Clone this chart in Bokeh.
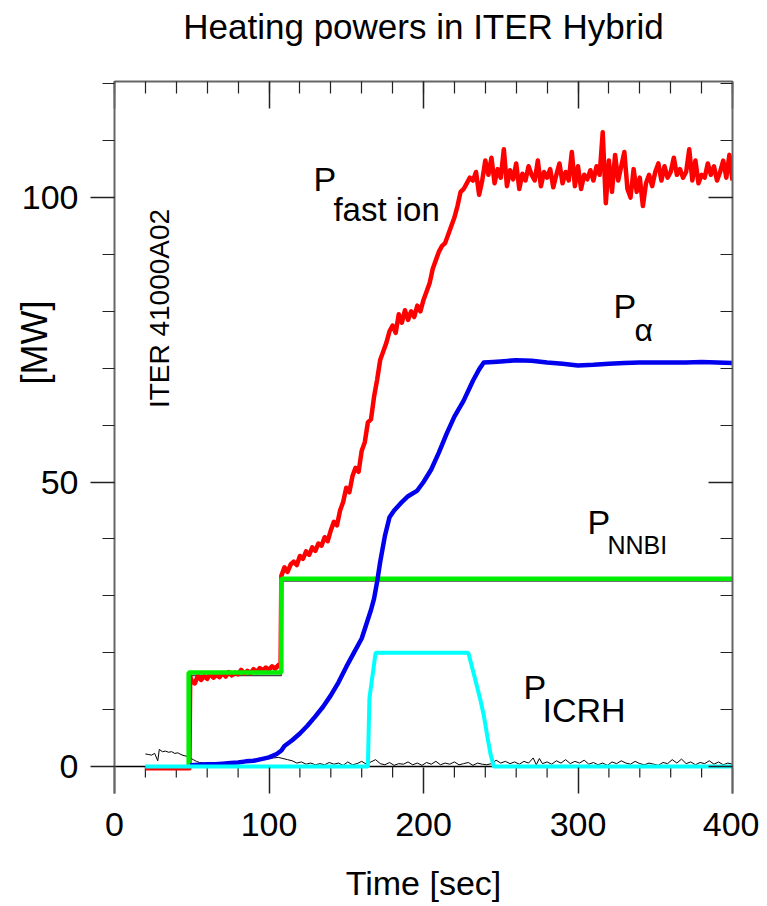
from bokeh.plotting import figure
from bokeh.models import Range1d, LinearAxis, FixedTicker, Label, Span
from bokeh.embed import file_html
from bokeh.resources import INLINE
import math

# ---------------- data ----------------
# P fast ion (red)
fast_t = [20, 48.5,
          49, 50, 52, 54, 56, 58, 60, 62, 64, 66, 68, 70, 72, 74, 76, 78, 80, 82, 84, 86, 88, 90,
          92, 94, 96, 98, 100, 102, 104, 106, 107.5,
          108, 110, 112, 114, 116, 118, 120, 122, 124, 126, 128, 130, 132, 134, 136, 138, 140,
          142, 144, 146, 148, 150, 152, 154, 156, 158, 160, 162, 164, 166, 168, 170, 172, 174,
          176, 178, 180, 182, 184, 186, 188, 190, 192, 194, 196, 198, 200, 202, 204, 206, 208,
          210, 212, 214, 216, 218, 220, 222, 224, 226, 228, 230, 232, 234,
          236, 238, 240, 242, 244, 246, 248, 250, 252, 254, 256, 258, 260, 262, 264, 266, 268,
          270, 272, 274, 276, 278, 280, 282, 284, 286, 288, 290, 292, 294, 296, 298, 300, 302,
          304, 306, 308, 310, 312, 314, 316, 318, 320, 322, 324, 326, 328, 330, 332, 334, 336,
          338, 340, 342, 344, 346, 348, 350, 352, 354, 356, 358, 360, 362, 364, 366, 368, 370,
          372, 374, 376, 378, 380, 382, 384, 386, 388, 390, 392, 394, 396, 398, 400]
fast_p = [-0.3, -0.3,
          15.8, 15.0, 14.6, 16.0, 15.2, 15.9, 15.4, 16.3, 15.6, 16.1, 15.7, 16.4, 15.8, 16.6,
          16.0, 16.5, 16.2, 17.0, 16.3, 16.8, 16.4, 17.1, 16.6, 17.3, 16.9, 17.4, 17.0, 17.6,
          17.2, 17.8, 17.5,
          33.5, 35.0, 34.2, 35.5, 36.0, 35.4, 37.0, 36.5, 37.8, 37.2, 38.5, 37.9, 39.2, 38.8,
          40.3, 39.6, 41.5, 43.0, 42.4, 45.0, 46.5, 49.0, 48.2, 51.0, 52.5, 51.8, 55.5, 57.0,
          60.5, 61.0, 65.0, 68.0, 71.5, 73.0, 74.5, 76.5, 77.5, 76.2, 79.5, 78.0, 80.2, 78.5,
          80.0, 79.0, 81.0, 80.0, 82.0, 83.5, 85.0, 87.5, 89.0, 90.5, 91.5, 92.0, 93.5, 95.0,
          96.5, 98.5, 101.0, 101.5, 102.5, 103.5, 103.0, 104.5,
          100.5, 103.0, 106.5, 104.0, 107.0, 102.5, 105.0, 103.5, 108.5, 102.0, 104.8, 103.2,
          106.0, 101.5, 104.2, 103.0, 105.5, 104.0, 103.0, 106.5, 102.0, 104.5, 103.5, 105.0,
          101.8, 104.0, 106.0, 102.5, 104.5, 103.0, 108.0, 102.0, 105.5, 101.5, 104.0, 103.2,
          104.8, 103.0, 105.5, 104.0, 111.5, 99.0, 106.5, 101.0, 107.5, 103.0, 105.5, 108.0,
          101.5, 100.0, 105.0, 101.0, 103.5, 98.5, 102.5, 104.0, 102.0, 104.5, 106.0, 103.0,
          105.5, 103.5, 104.5, 107.0, 104.0, 105.0, 103.5, 104.5, 108.5, 103.0, 106.5, 102.5,
          104.0, 103.5, 106.0, 104.0, 105.5, 103.0, 104.5, 106.5, 103.5, 107.5, 103.0, 103.5]

# P alpha (blue)
alpha_t = [49, 55, 60, 65, 70, 75, 80, 85, 90, 95, 100, 105, 108, 110, 115, 120, 125, 130,
           135, 140, 145, 150, 155, 160, 163, 166, 168, 170, 172, 175, 178, 181, 185, 190, 196,
           200, 205, 210, 215, 220, 226, 232, 236, 239, 245, 250, 260, 270, 280, 290, 300, 310,
           320, 330, 340, 350, 360, 370, 380, 390, 400]
alpha_p = [0.2, 0.3, 0.4, 0.4, 0.5, 0.6, 0.7, 0.9, 1.0, 1.3, 1.6, 2.2, 2.8, 3.6, 4.6, 5.8,
           7.2, 8.8, 10.5, 12.5, 14.8, 17.5, 20.0, 22.5, 25.0, 27.5, 29.5, 32.5, 36.0, 40.5,
           43.8, 45.0, 46.2, 47.5, 48.5, 50.0, 52.2, 55.2, 58.5, 61.5, 64.3, 67.8, 69.8, 71.0,
           71.1, 71.2, 71.4, 71.3, 71.0, 70.8, 70.5, 70.6, 70.8, 70.9, 71.0, 71.0, 71.0, 71.0,
           71.1, 71.0, 70.9]

# P NNBI (green) and injected NBI (thin dark line)
nnbi_t = [48, 48, 108, 108, 400]
nnbi_p = [0, 16.5, 16.5, 33.0, 33.0]
inj_t = [48.5, 49, 108, 108.5, 400]
inj_p = [0, 16.0, 16.0, 32.6, 32.6]

# P ICRH (cyan)
icrh_t = [20, 164, 165, 169, 229, 233, 237, 239, 241.5, 243.5, 245.5, 400]
icrh_p = [0, 0, 12, 20, 20, 15.8, 11.5, 9.0, 5.0, 2.0, 0, 0]

# thin black trace near zero
thin_t = [20, 22, 24, 26, 28, 29, 31, 33, 35, 37, 39, 41, 43, 45, 47, 49, 51, 53, 55, 58, 61,
          64, 67, 70, 73, 76, 79, 82, 85, 88, 91, 94, 97, 100, 103, 106, 109, 112, 115, 118,
          121, 124, 127, 130, 133, 136, 139, 142, 145, 148, 151, 154, 157, 160, 163, 166, 169,
          172, 175, 178, 181, 184, 187, 190, 193, 196, 199, 202, 205, 208, 211, 214, 217, 220,
          223, 226, 229, 232, 235, 238, 241, 244, 247, 250, 253, 256, 259, 262, 265, 268, 271,
          273, 275, 277, 280, 283, 286, 289, 292, 295, 298, 301, 304, 307, 310, 313, 316, 319,
          322, 325, 328, 331, 334, 337, 340, 343, 346, 349, 352, 355, 358, 361, 364, 367, 370,
          373, 376, 379, 382, 385, 388, 391, 394, 397, 400]
thin_p = [2.2, 2.1, 2.0, 2.3, 1.0, 3.0, 2.6, 2.7, 2.5, 2.6, 2.3, 2.4, 2.1, 1.9, 1.8, 1.5,
          1.2, 0.9, 0.7, 0.6, 0.5, 0.5, 0.6, 0.5, 0.7, 0.6, 0.8, 0.7, 0.9, 1.1, 1.0, 1.3, 1.2,
          1.4, 1.5, 1.6, 1.4, 1.2, 1.0, 0.6, 0.8, 0.4, 0.6, 0.3, 0.5, 0.3, 0.7, 0.4, 0.6, 0.2,
          0.8, 0.3, 0.5, 0.9, 0.4, 0.8, 1.2, 0.5, 0.3, 0.7, 0.2, 0.5, 0.4, 0.8, 0.3, 0.6, 0.2,
          0.7, 0.4, 0.9, 0.3, 0.6, 0.4, 0.8, 0.3, 0.5, 0.7, 0.2, 0.6, 0.4, 0.3, 0.5, 1.1, 0.6,
          0.9, 0.5, 0.8, 0.4, 0.9, 0.6, 1.5, 0.3, 1.4, 0.5, 0.8, 0.4, 1.0, 0.6, 1.2, 0.5, 0.9,
          0.6, 1.1, 0.4, 0.7, 0.3, 0.6, 0.2, 0.8, 0.5, 1.0, 0.6, 0.4, 0.9, 0.5, 0.3, 0.6, 0.4,
          0.2, 0.7, 0.5, 1.2, 0.6, 1.3, 0.5, 0.8, 0.3, 0.7, 0.5, 1.0, 0.4, 0.8, 0.3, 0.6, 0.4]

x_major = [0, 100, 200, 300, 400]
x_minor = list(range(0, 401, 20))
y_major = [0, 50, 100]
y_minor = list(range(0, 121, 10))

FONT = "Liberation Sans"
NB = "\u00a0"

# ---------------- figure ----------------
p = figure(width=759, height=904,
           x_range=Range1d(0, 400), y_range=Range1d(-4.75, 120.4),
           x_axis_location=None, y_axis_location=None,
           output_backend="svg", toolbar_location=None,
           min_border_left=114, min_border_right=27,
           min_border_top=81, min_border_bottom=111)
p.outline_line_color = None
for g in p.grid:
    g.visible = False

AX_COL = "#666666"
TK_COL = "#222222"

def style(ax):
    ax.axis_line_color = AX_COL
    ax.axis_line_width = 2
    ax.major_tick_line_color = TK_COL
    ax.minor_tick_line_color = TK_COL
    ax.major_tick_line_width = 1.5
    ax.minor_tick_line_width = 1.2
    ax.major_label_text_font = FONT
    ax.major_label_text_color = "black"
    ax.axis_label_text_font = FONT
    ax.axis_label_text_font_style = "normal"
    ax.axis_label_text_color = "black"

# bottom axis: labels + major ticks rising from the frame bottom to the zero line
bottom = LinearAxis(ticker=FixedTicker(ticks=x_major, minor_ticks=[]))
style(bottom)
bottom.axis_line_color = None
bottom.major_tick_in = 26
bottom.major_tick_out = 0
bottom.minor_tick_in = 0
bottom.minor_tick_out = 0
bottom.major_label_standoff = 19
bottom.major_label_text_font_size = "34px"
bottom.axis_label = "Time [sec]"
bottom.axis_label_text_font_size = "34px"
bottom.axis_label_standoff = 25
p.add_layout(bottom, "below")

left = LinearAxis(ticker=FixedTicker(ticks=y_major, minor_ticks=y_minor))
style(left)
left.major_tick_in = 0
left.major_tick_out = 24
left.minor_tick_in = 0
left.minor_tick_out = 12
left.major_label_standoff = 12
left.major_label_text_font_size = "34px"
left.axis_label = NB * 19 + "[MW]"
left.axis_label_text_font_size = "36px"
left.axis_label_standoff = -36
p.add_layout(left, "left")

top = LinearAxis(ticker=FixedTicker(ticks=x_major, minor_ticks=x_minor),
                 major_label_overrides={v: "" for v in x_major})
style(top)
top.major_tick_in = 27
top.major_tick_out = 0
top.minor_tick_in = 12
top.minor_tick_out = 0
top.major_label_text_font_size = "1px"
top.major_label_standoff = 0
top.axis_label = "Heating powers in ITER Hybrid"
top.axis_label_text_font_size = "35px"
top.axis_label_standoff = 36
p.add_layout(top, "above")

right = LinearAxis(ticker=FixedTicker(ticks=y_major, minor_ticks=y_minor),
                   major_label_overrides={v: "" for v in y_major})
style(right)
right.major_tick_in = 24
right.major_tick_out = 0
right.minor_tick_in = 12
right.minor_tick_out = 0
right.major_label_text_font_size = "1px"
right.major_label_standoff = 0
p.add_layout(right, "right")

# zero line and the short minor ticks hanging from it
p.add_layout(Span(location=0, dimension="width", line_color="black", line_width=1.5,
                  level="underlay"))
minor_only = [v for v in x_minor if v not in x_major]
p.segment(x0=minor_only, y0=[0] * len(minor_only), x1=minor_only,
          y1=[-1.93] * len(minor_only), line_color=TK_COL, line_width=1.2)

# ---------------- lines ----------------
p.line(thin_t, thin_p, line_color="black", line_width=1)
p.line(inj_t, inj_p, line_color="#444444", line_width=1.5)
p.line(fast_t, fast_p, line_color="#ff0000", line_width=4.5, line_join="round")
p.line(nnbi_t, nnbi_p, line_color="#00ee00", line_width=4.5)
p.line(alpha_t, alpha_p, line_color="#0000ee", line_width=4.5, line_join="round")
p.line(icrh_t, icrh_p, line_color="#00ffff", line_width=4)

# ---------------- texts inside the frame ----------------
def lab(x, y, text, size, angle=0, align="left", baseline="alphabetic"):
    p.add_layout(Label(x=x, y=y, text=text, text_font=FONT, text_font_size=size,
                       text_color="black", angle=angle, text_align=align,
                       text_baseline=baseline))

lab(29.1, 80.5, "ITER 41000A02", "28px", angle=math.pi / 2, align="center", baseline="middle")
lab(128.8, 103.2, "P", "34px")
lab(141.7, 97.9, "fast ion", "33px")
lab(323.0, 81.0, "P", "34px")
lab(336.6, 76.8, "\u03b1", "32px")
lab(306.1, 42.9, "P", "34px")
lab(319.1, 39.0, "NNBI", "25px")
lab(264.7, 13.9, "P", "34px")
lab(277.0, 10.0, "ICRH", "34px")

open("out.html", "w").write(file_html(p, INLINE))
